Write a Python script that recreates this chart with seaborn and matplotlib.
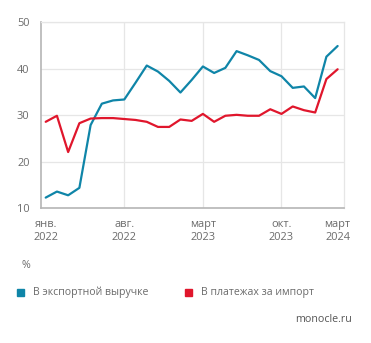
import matplotlib
matplotlib.use("Agg")
import matplotlib.pyplot as plt
import seaborn as sns
import pandas as pd

# Monthly shares, Jan 2022 - Mar 2024 (%)
months = list(range(27))
export_share = [12.3, 13.6, 12.8, 14.4, 27.9, 32.5, 33.2, 33.4, 37.0, 40.7,
                39.4, 37.4, 34.9, 37.6, 40.5, 39.1, 40.2, 43.8, 42.9, 41.9,
                39.5, 38.4, 35.9, 36.2, 33.7, 42.6, 44.9]
import_share = [28.6, 29.9, 22.1, 28.3, 29.3, 29.4, 29.4, 29.2, 29.0, 28.6,
                27.5, 27.5, 29.1, 28.8, 30.3, 28.6, 29.9, 30.1, 29.9, 29.9,
                31.3, 30.3, 31.9, 31.1, 30.6, 37.8, 39.9]
series_names = ["В экспортной выручке", "В платежах за импорт"]
tick_pos = [0, 7, 14, 21, 26]
tick_labels = ["янв.\n2022", "авг.\n2022", "март\n2023", "окт.\n2023", "март\n2024"]
y_ticks = [10, 20, 30, 40, 50]

colors = ["#0f85a8", "#e0162c"]

df = pd.DataFrame({
    "month": months * 2,
    "value": export_share + import_share,
    "series": [series_names[0]] * len(months) + [series_names[1]] * len(months),
})

sns.set_style("white")
plt.rcParams["font.family"] = ["Open Sans", "DejaVu Sans"]
text_color = "#6b6b6b"
grid_color = "#e6e6e6"

fig = plt.figure(figsize=(3.71, 3.43), dpi=100)
ax = fig.add_axes([0.1097, 0.3927, 0.8173, 0.5423])

sns.lineplot(data=df, x="month", y="value", hue="series", palette=colors,
             linewidth=1.6, ax=ax, legend=False, zorder=3)

ax.set_xlim(-0.445, 26.56)
ax.set_ylim(10, 50)
ax.set_xticks(tick_pos)
ax.set_xticklabels(tick_labels, fontsize=7.9, color=text_color, linespacing=1.15)
ax.set_yticks(y_ticks)
ax.set_yticklabels([str(v) for v in y_ticks], fontsize=7.9, color=text_color)
ax.set_xlabel("")
ax.set_ylabel("")

# light grid: horizontal at y ticks, vertical at inner x ticks
for v in y_ticks[1:]:
    ax.axhline(v, color=grid_color, lw=0.9, zorder=1)
for p in tick_pos[1:4]:
    ax.axvline(p, color=grid_color, lw=0.9, zorder=1)

for side in ["top", "right"]:
    ax.spines[side].set_color(grid_color)
    ax.spines[side].set_linewidth(0.9)
for side in ["left", "bottom"]:
    ax.spines[side].set_color("#b5b5b5")
    ax.spines[side].set_linewidth(1.2)

ax.tick_params(axis="y", length=6, width=0.9, color="#d6d6d6", pad=2)
ax.tick_params(axis="x", length=0, pad=8)

# unit and legend beneath the plot
fig.text(22 / 371, 1 - 265 / 343, "%", fontsize=7.7, color=text_color,
         ha="left", va="center")
for x0, name, c in [(20, series_names[0], colors[0]), (188, series_names[1], colors[1])]:
    fig.patches.append(plt.Rectangle(((x0 - 3.5) / 371, 1 - (292 + 3.5) / 343),
                                     7 / 371, 7 / 343, transform=fig.transFigure,
                                     color=c, figure=fig))
    fig.text((x0 + 13) / 371, 1 - 292 / 343, name, fontsize=7.6,
             color=text_color, ha="left", va="center")

fig.text(352 / 371, 1 - 320 / 343, "monocle.ru", fontsize=7.7, color="#555555",
         ha="right", va="center")

fig.savefig("out.png", dpi=100, facecolor="white")
